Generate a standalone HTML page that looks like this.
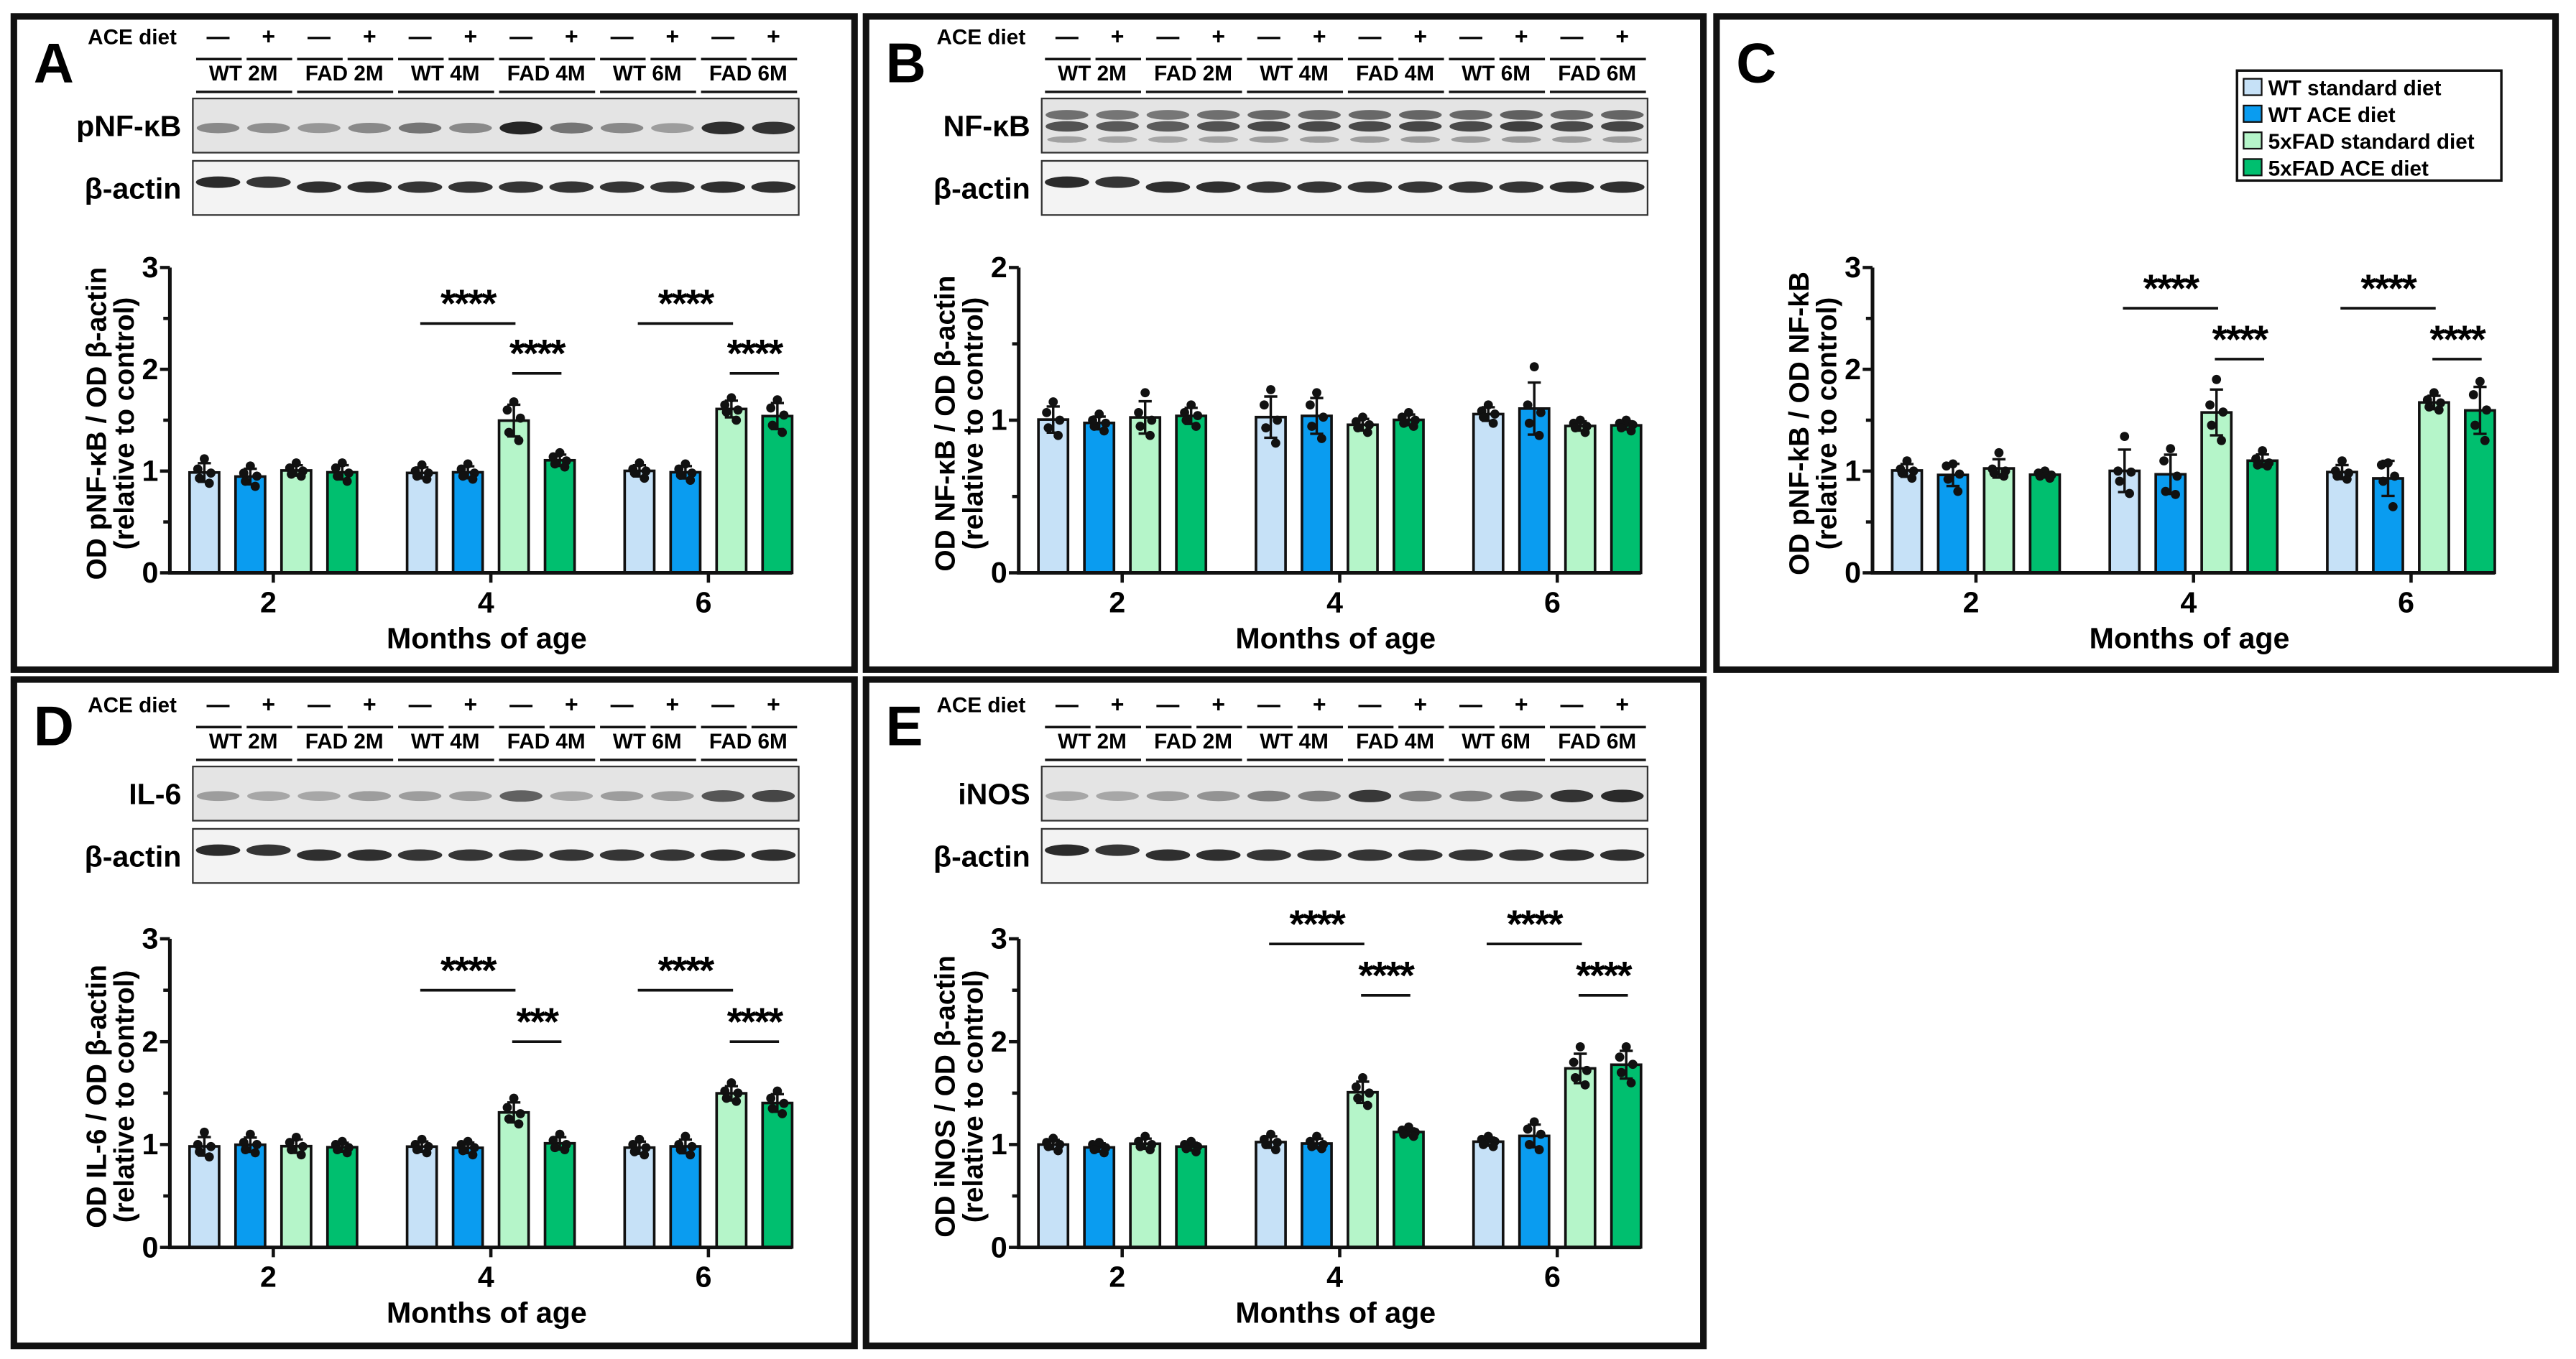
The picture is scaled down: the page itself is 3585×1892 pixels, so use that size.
<!DOCTYPE html>
<html><head><meta charset="utf-8"><style>
html,body{margin:0;padding:0;background:#fff;}
svg{display:block;font-family:"Liberation Sans",Arial,sans-serif;font-weight:bold;}
</style></head><body>
<svg id="fig" width="3585" height="1892" viewBox="0 0 1568 828" xmlns="http://www.w3.org/2000/svg"></svg>
<script>
const groups = ["2","4","6"];
const seriesNames = ["WT standard diet","WT ACE diet","5xFAD standard diet","5xFAD ACE diet"];
const colors = ["#c6e1f7","#0a9cf0","#b5f5c9","#00bf6f"];
const laneGroups = ["WT 2M","FAD 2M","WT 4M","FAD 4M","WT 6M","FAD 6M"];
const yTicks3 = [0,1,2,3];
const yTicks2 = [0,1,2];

const ptsA = [[1.12,1.02,0.98,0.93,0.88],[1.05,0.98,0.95,0.9,0.85],[1.08,1.03,1.0,0.97,0.95],[1.08,1.03,0.98,0.95,0.9],
[1.06,1.0,0.98,0.95,0.92],[1.07,1.02,0.98,0.95,0.92],[1.68,1.6,1.52,1.38,1.3],[1.18,1.14,1.1,1.07,1.04],
[1.08,1.02,1.0,0.98,0.93],[1.07,1.02,0.98,0.96,0.91],[1.72,1.65,1.6,1.58,1.5],[1.7,1.62,1.55,1.45,1.38]];
const ptsB = [[1.12,1.05,1.0,0.95,0.9],[1.04,1.0,0.98,0.96,0.93],[1.18,1.05,1.0,0.96,0.9],[1.1,1.05,1.03,1.0,0.96],
[1.2,1.1,1.0,0.95,0.85],[1.18,1.1,1.02,0.96,0.88],[1.02,0.99,0.97,0.95,0.92],[1.05,1.02,1.0,0.98,0.96],
[1.1,1.06,1.04,1.02,0.98],[1.35,1.1,1.05,0.98,0.9],[1.0,0.98,0.96,0.95,0.92],[1.0,0.98,0.97,0.95,0.93]];
const ptsC = [[1.1,1.02,1.0,0.98,0.93],[1.07,1.05,0.97,0.92,0.8],[1.18,1.02,1.0,0.98,0.95],[1.0,0.98,0.96,0.95,0.93],
[1.34,1.0,0.99,0.9,0.78],[1.22,1.1,0.95,0.8,0.77],[1.9,1.65,1.58,1.45,1.3],[1.2,1.12,1.08,1.06,1.05],
[1.1,1.0,0.98,0.95,0.92],[1.08,1.06,0.95,0.9,0.65],[1.77,1.7,1.67,1.63,1.6],[1.88,1.75,1.6,1.45,1.3]];
const ptsD = [[1.12,1.0,0.98,0.93,0.88],[1.1,1.02,1.0,0.95,0.92],[1.07,1.02,0.98,0.95,0.9],[1.03,1.0,0.97,0.95,0.92],
[1.05,1.0,0.98,0.95,0.92],[1.03,1.0,0.97,0.94,0.9],[1.45,1.36,1.3,1.25,1.2],[1.1,1.04,1.0,0.97,0.95],
[1.05,1.0,0.97,0.93,0.9],[1.08,1.0,0.98,0.95,0.9],[1.6,1.52,1.5,1.45,1.42],[1.52,1.45,1.4,1.35,1.3]];
const ptsE = [[1.06,1.02,1.0,0.98,0.94],[1.02,1.0,0.97,0.95,0.92],[1.08,1.03,1.0,0.98,0.95],[1.03,1.0,0.98,0.96,0.93],
[1.1,1.05,1.02,1.0,0.95],[1.08,1.03,1.0,0.98,0.96],[1.65,1.56,1.5,1.45,1.38],[1.17,1.14,1.12,1.1,1.08],
[1.08,1.05,1.03,1.0,0.98],[1.22,1.15,1.1,1.0,0.95],[1.95,1.8,1.72,1.65,1.58],[1.95,1.85,1.78,1.7,1.6]];

const sigA = [[1,0,2,2.45,"****"],[1,2,3,1.96,"****"],[2,0,2,2.45,"****"],[2,2,3,1.96,"****"]];
const sigC = [[1,0,2,2.6,"****"],[1,2,3,2.1,"****"],[2,0,2,2.6,"****"],[2,2,3,2.1,"****"]];
const sigD = [[1,0,2,2.5,"****"],[1,2,3,2.0,"***"],[2,0,2,2.5,"****"],[2,2,3,2.0,"****"]];
const sigE = [[1,0,2,2.95,"****"],[1,2,3,2.45,"****"],[2,0,2,2.95,"****"],[2,2,3,2.45,"****"]];

const bandA = [0.45,0.42,0.38,0.45,0.55,0.45,0.95,0.55,0.45,0.35,0.9,0.88];
const bandB = [0.75,0.72,0.7,0.75,0.8,0.8,0.8,0.82,0.8,0.85,0.8,0.82];
const bandD = [0.35,0.3,0.3,0.35,0.35,0.35,0.65,0.3,0.35,0.35,0.7,0.78];
const bandE = [0.3,0.3,0.35,0.4,0.5,0.5,0.85,0.5,0.5,0.6,0.88,0.92];
const bandActin = [0.92,0.88,0.9,0.9,0.88,0.88,0.88,0.88,0.88,0.88,0.9,0.9];

const svg = document.getElementById('fig');
const NS = "http://www.w3.org/2000/svg";
function el(tag, attrs, parent, text){
  const e = document.createElementNS(NS, tag);
  for (const k in attrs) e.setAttribute(k, attrs[k]);
  if (text !== undefined) e.textContent = text;
  (parent||svg).appendChild(e);
  return e;
}
function mean(a){return a.reduce((s,v)=>s+v,0)/a.length;}
function sd(a){const m=mean(a);return Math.sqrt(a.reduce((s,v)=>s+(v-m)*(v-m),0)/(a.length-1));}

function panelFrame(x,y,w,h,letter){
  const g = el('g',{});
  
  
  const r = el('rect',{x:x,y:y,width:w,height:h,fill:'none',stroke:'#111','stroke-width':4},g);
  
  
  const t = el('text',{x:x+12,y:y+40,'font-size':34},g,letter);
  
  
  return g;
}

function blot(g, bx, top, label, bands, kind){
  const lw = 369/12;
  const hd = el('text',{x:bx-64,y:top+7,'font-size':13},g,"ACE diet");
  
  
  for (let i=0;i<12;i++){
    const cx = bx+lw*(i+0.5);
    const s = el('text',{x:cx,y:top+7,'font-size':14,'text-anchor':'middle'},g,i%2===0?"—":"+");
    
    
    el('line',{x1:cx-lw/2+2,x2:cx+lw/2-1,y1:top+16,y2:top+16,stroke:'#111','stroke-width':1.5},g);
  }
  for (let p=0;p<6;p++){
    const cx = bx+lw*(2*p+1);
    const t = el('text',{x:cx,y:top+29,'font-size':13,'text-anchor':'middle'},g,laneGroups[p]);
    
    
    el('line',{x1:cx-lw+2,x2:cx+lw-1,y1:top+36,y2:top+36,stroke:'#111','stroke-width':1.5},g);
  }
  const boxes = [[top+40,label,bands,kind],[top+78,"β-actin",bandActin,'actin']];
  boxes.forEach(([by,lab,bd,k])=>{
    const bg = el('g',{},g);
    
    
    el('rect',{x:bx,y:by,width:369,height:33,fill:k==='actin'?'#f3f3f3':'#e4e4e4',stroke:'#333','stroke-width':1},bg);
    for (let i=0;i<12;i++){
      const cx = bx+lw*(i+0.5);
      const v = bd[i];
      if (k==='nf'){
        el('ellipse',{cx:cx,cy:by+10,rx:13,ry:3,fill:'#222','fill-opacity':v*0.8},bg);
        el('ellipse',{cx:cx,cy:by+17,rx:13,ry:3.2,fill:'#222','fill-opacity':v},bg);
        el('ellipse',{cx:cx,cy:by+25,rx:12,ry:2,fill:'#333','fill-opacity':v*0.5},bg);
      } else if (k==='actin'){
        el('ellipse',{cx:cx,cy:by+16+(i<2?-3:0),rx:13.5,ry:3.5,fill:'#1a1a1a','fill-opacity':v},bg);
      } else {
        el('ellipse',{cx:cx,cy:by+18,rx:13,ry:2.5+v*1.5,fill:'#1a1a1a','fill-opacity':v},bg);
      }
    }
    const lt = el('text',{x:bx-7,y:by+23,'font-size':18,'text-anchor':'end'},g,lab);
    
    
  });
}

function chart(g, ax, y0, ytop, ymax, ticks, pts, sig, title1, title2){
  const ppu = (y0-ytop)/ymax;
  const Y = v => y0 - v*ppu;
  const xEnd = ax + 379;
  const X = (gi,i) => ax + 21 + gi*132.5 + i*28;
  for (let gi=0;gi<3;gi++){
    for (let i=0;i<4;i++){
      const p = pts[gi*4+i];
      const m = mean(p), s = sd(p);
      const cx = X(gi,i);
      const b = el('rect',{x:cx-9,y:Y(m),width:18,height:y0-Y(m),fill:colors[i],stroke:'#111','stroke-width':1.6},g);
      
      
      const e = el('path',{d:`M${cx},${Y(m+s)}V${Y(m-s)}M${cx-4},${Y(m+s)}H${cx+4}M${cx-4},${Y(m-s)}H${cx+4}`,stroke:'#111','stroke-width':1.5,fill:'none'},g);
      
      
      const jit = [0,-4,4,-3,3];
      p.forEach((v,k)=>{
        const d = el('circle',{cx:cx+jit[k],cy:Y(v),r:2.8,fill:'#111'},g);
        
        
      });
    }
    const gc = (X(gi,0)+X(gi,3))/2;
    el('line',{x1:gc,x2:gc,y1:y0,y2:y0+6,stroke:'#111','stroke-width':2},g);
    const tl = el('text',{x:gc-3,y:y0+24,'font-size':18,'text-anchor':'middle'},g,groups[gi]);
    
    
  }
  const axes = el('path',{d:`M${ax},${ytop}V${y0}H${xEnd}`,stroke:'#111','stroke-width':2.2,fill:'none'},g);
  
  
  for (let v=0; v<=ymax+1e-9; v+=0.5){
    const major = Math.abs(v-Math.round(v))<1e-9;
    el('line',{x1:ax-(major?6:4),x2:ax,y1:Y(v),y2:Y(v),stroke:'#111','stroke-width':2},g);
  }
  ticks.forEach(t=>{
    const tt = el('text',{x:ax-7,y:Y(t)+6,'font-size':18,'text-anchor':'end'},g,String(t));
    
    
  });
  sig.forEach(([gi,i1,i2,lv,txt])=>{
    const x1 = X(gi,i1)-1, x2 = X(gi,i2)+1;
    const l = el('line',{x1:x1,x2:x2,y1:Y(lv),y2:Y(lv),stroke:'#111','stroke-width':1.6},g);
    
    
    const t = el('text',{x:(x1+x2)/2,y:Y(lv)-4,'font-size':24,'text-anchor':'middle','letter-spacing':'-1'},g,txt);
    
    
  });
  const cy = (y0+ytop)/2 + 2;
  const t1 = el('text',{x:0,y:0,'font-size':17,'text-anchor':'middle',transform:`translate(${ax-39},${cy}) rotate(-90)`},g,title1);
  
  
  const t2 = el('text',{x:0,y:0,'font-size':17,'text-anchor':'middle',transform:`translate(${ax-22},${cy}) rotate(-90)`},g,title2);
  
  
  const xt = el('text',{x:ax+193,y:y0+46,'font-size':18,'text-anchor':'middle'},g,"Months of age");
  
  
}

let g = panelFrame(8,10,512,398,"A");
blot(g,117,20,"pNF-κB",bandA,'p');
chart(g,103,349,163,3,yTicks3,ptsA,sigA,"OD pNF-κB / OD β-actin","(relative to control)");
g = panelFrame(527,10,510,398,"B");
blot(g,634,20,"NF-κB",bandB,'nf');
chart(g,620,349,163,2,yTicks2,ptsB,[],"OD NF-κB / OD β-actin","(relative to control)");
g = panelFrame(1045,10,511,398,"C");
chart(g,1140,349,163,3,yTicks3,ptsC,sigC,"OD pNF-kB / OD NF-kB","(relative to control)");
const lg = el('g',{},g);


el('rect',{x:1362,y:43,width:161,height:67,fill:'#fff',stroke:'#111','stroke-width':1.5},lg);
seriesNames.forEach((n,i)=>{
  const yy = 53+i*16.3;
  const sw = el('rect',{x:1366,y:yy-5,width:11,height:10,fill:colors[i],stroke:'#111','stroke-width':1},lg);
  
  
  const t = el('text',{x:1381,y:yy+5,'font-size':13},lg,n);
  
  
});
g = panelFrame(8,414,512,406,"D");
blot(g,117,427,"IL-6",bandD,'p');
chart(g,103,760,572,3,yTicks3,ptsD,sigD,"OD IL-6 / OD β-actin","(relative to control)");
g = panelFrame(527,414,510,406,"E");
blot(g,634,427,"iNOS",bandE,'p');
chart(g,620,760,572,3,yTicks3,ptsE,sigE,"OD iNOS / OD β-actin","(relative to control)");
</script>
</body></html>
